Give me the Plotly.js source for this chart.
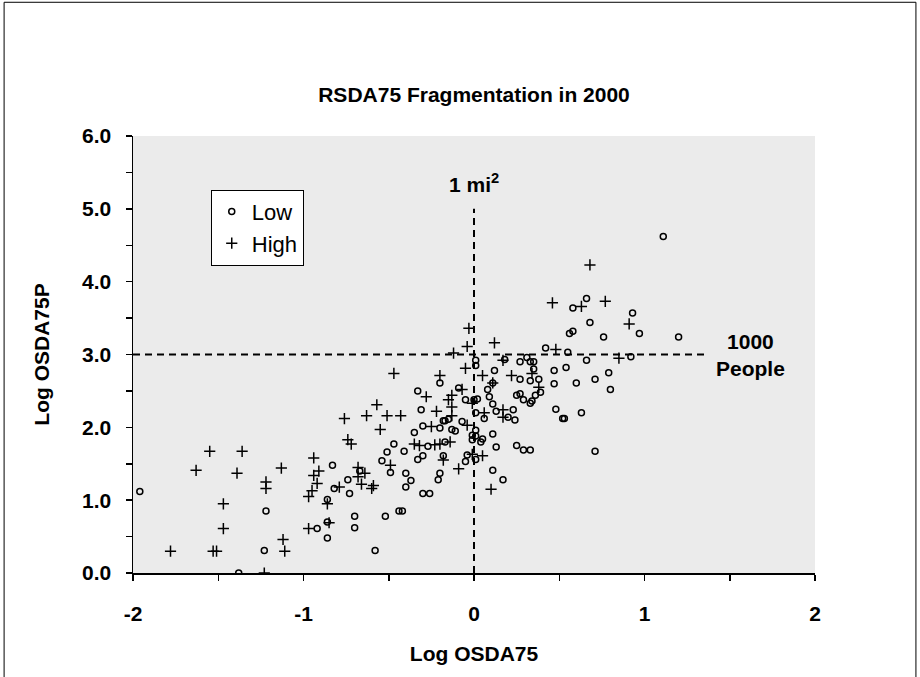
<!DOCTYPE html>
<html>
<head>
<meta charset="utf-8">
<script src="https://cdn.plot.ly/plotly-3.0.1.min.js"></script>
<style>html,body{margin:0;padding:0;background:#fff;}#chart{width:920px;height:677px;}</style>
</head>
<body>
<div id="chart"></div>
<script>
// Low group (open circles): log OSDA75 and log OSDA75P
const lowX = [-1.96,-1.22,-1.23,-1.38,-0.47,-0.51,-0.54,-0.49,-0.83,-0.74,-0.82,-0.73,-0.67,-0.86,-0.86,-0.92,-0.86,-0.70,-0.70,-0.52,-0.44,-0.42,-0.58,
  0.01,0.01,-0.20,-0.33,-0.09,-0.05,0.00,0.02,-0.31,0.01,-0.18,-0.17,-0.15,-0.07,-0.30,-0.20,-0.13,-0.11,0.01,-0.35,-0.01,0.01,-0.01,-0.41,-0.30,-0.27,-0.17,-0.33,-0.18,-0.04,-0.05,0.01,-0.40,-0.37,-0.40,-0.20,-0.21,-0.30,-0.26,
  0.42,0.18,0.27,0.31,0.33,0.35,0.35,0.12,0.27,0.33,0.38,0.47,0.47,0.11,0.08,0.39,0.25,0.27,0.36,0.09,0.29,0.33,0.34,0.11,0.13,0.20,0.23,0.24,0.06,0.48,0.11,0.04,0.05,0.13,0.25,0.29,0.33,0.11,0.17,
  1.11,0.58,0.66,0.93,0.68,0.56,0.58,0.76,0.97,1.20,0.55,0.66,0.92,0.54,0.79,0.71,0.60,0.80,0.52,0.53,0.63,0.71];
const lowY = [1.12,0.85,0.31,0.00,1.77,1.66,1.54,1.38,1.48,1.28,1.16,1.09,1.40,1.01,0.70,0.61,0.48,0.78,0.62,0.78,0.85,0.85,0.31,
  2.92,2.85,2.61,2.50,2.54,2.38,2.38,2.39,2.24,2.20,2.09,2.09,2.11,2.08,2.02,1.99,1.97,1.95,1.96,1.93,1.89,1.88,1.83,1.67,1.61,1.74,1.80,1.56,1.61,1.62,1.53,1.56,1.37,1.27,1.18,1.37,1.28,1.09,1.09,
  3.09,2.93,2.90,2.96,2.90,2.90,2.80,2.78,2.66,2.64,2.66,2.78,2.60,2.61,2.52,2.48,2.44,2.46,2.44,2.42,2.38,2.33,2.36,2.32,2.22,2.14,2.24,2.10,2.12,2.25,1.91,1.80,1.84,1.73,1.75,1.69,1.69,1.41,1.28,
  4.62,3.64,3.77,3.57,3.44,3.29,3.32,3.24,3.29,3.24,3.03,2.92,2.97,2.82,2.75,2.66,2.61,2.52,2.12,2.12,2.20,1.67];

// High group (plus signs)
const highX = [-1.55,-1.36,-1.63,-1.39,-1.22,-1.22,-1.13,-1.47,-1.47,-1.78,-1.53,-1.51,-1.23,-1.12,-1.11,
  -0.47,-0.57,-0.63,-0.51,-0.43,-0.76,-0.55,-0.74,-0.72,-0.49,-0.94,-0.91,-0.94,-0.92,-0.95,-0.97,-0.79,-0.68,-0.64,-0.68,-0.66,-0.59,-0.60,-0.86,-0.85,-0.97,
  -0.03,-0.04,-0.12,-0.05,-0.20,-0.28,-0.07,-0.13,-0.15,-0.01,-0.13,-0.22,-0.13,-0.04,-0.25,-0.35,-0.32,-0.23,-0.20,-0.14,-0.18,-0.09,
  0.46,0.12,0.48,0.17,0.34,0.05,0.22,0.11,0.38,0.17,0.17,0.06,-0.01,0.05,0.10,
  0.68,0.63,0.77,0.91,0.85];
const highY = [1.67,1.67,1.41,1.37,1.25,1.16,1.44,0.95,0.61,0.30,0.30,0.30,0.00,0.46,0.30,
  2.74,2.31,2.16,2.16,2.16,2.12,1.97,1.83,1.77,1.48,1.58,1.40,1.34,1.23,1.13,1.05,1.18,1.45,1.37,1.32,1.22,1.20,1.16,0.95,0.69,0.61,
  3.36,3.11,3.02,2.81,2.71,2.42,2.52,2.44,2.38,2.33,2.28,2.22,2.16,2.03,2.01,1.77,1.75,1.76,1.77,1.80,1.55,1.43,
  3.71,3.16,3.07,2.92,2.74,2.71,2.71,2.61,2.55,2.24,2.14,2.20,1.63,1.61,1.15,
  4.23,3.66,3.73,3.42,2.95];

const seriesNames = ["Low", "High"];
// Reference lines: 1 square mile (log = 0) and 1000 people (log = 3)
const vLineX = [0, 0], vLineY = [0, 5.0];
const hLineX = [-2, 1.37], hLineY = [3, 3];
const xTickVals = [-2, -1, 0, 1, 2];
const yTickVals = [0, 1, 2, 3, 4, 5, 6];

const font = "Arial, 'Liberation Sans', sans-serif";

const traces = [
  {x: lowX, y: lowY, name: seriesNames[0], type: "scatter", mode: "markers",
   marker: {symbol: "circle-open", size: 6, color: "#000", line: {width: 1.5, color: "#000"}}},
  {x: highX, y: highY, name: seriesNames[1], type: "scatter", mode: "markers",
   marker: {symbol: "cross-thin-open", size: 8, color: "#000", line: {width: 1.5, color: "#000"}}}
];

const layout = {
  width: 920, height: 677,
  margin: {l: 133, r: 105, t: 136, b: 104, pad: 0},
  paper_bgcolor: "#ffffff",
  plot_bgcolor: "#ebebeb",
  font: {family: font, color: "#000"},
  showlegend: true,
  title: {text: "<b>RSDA75 Fragmentation in 2000</b>", font: {size: 21, family: font, color: "#000"},
          x: 0.5, xref: "paper", xanchor: "center", y: 0.86, yref: "container", yanchor: "middle"},
  xaxis: {
    range: [-2, 2], tickvals: xTickVals, ticktext: xTickVals.map(v => "<b>" + v + "</b>"),
    showgrid: false, zeroline: false, showline: true, linecolor: "#000", linewidth: 1.5,
    ticks: "outside", ticklen: 6, tickwidth: 1.5, tickcolor: "#000",
    minor: {dtick: 0.5, tick0: 0, ticks: "outside", ticklen: 6, tickwidth: 1.5, tickcolor: "#000", showgrid: false},
    tickfont: {size: 21, family: font, color: "#000"}, ticklabelstandoff: 15,
    title: {text: "<b>Log OSDA75</b>", font: {size: 21, family: font, color: "#000"}, standoff: 22},
    fixedrange: true
  },
  yaxis: {
    range: [0, 6], tickvals: yTickVals, ticktext: yTickVals.map(v => "<b>" + v.toFixed(1) + "</b>"),
    showgrid: false, zeroline: false, showline: true, linecolor: "#000", linewidth: 1.5,
    ticks: "outside", ticklen: 6, tickwidth: 1.5, tickcolor: "#000",
    minor: {dtick: 0.5, tick0: 0, ticks: "outside", ticklen: 6, tickwidth: 1.5, tickcolor: "#000", showgrid: false},
    tickfont: {size: 21, family: font, color: "#000"}, ticklabelstandoff: 10,
    title: {text: "<b>Log OSDA75P</b>", font: {size: 21, family: font, color: "#000"}, standoff: 26},
    fixedrange: true
  },
  legend: {x: 0.114, y: 0.877, xanchor: "left", yanchor: "top", bgcolor: "#ffffff",
           bordercolor: "#000", borderwidth: 1, font: {size: 22, family: font, color: "#000"},
           itemwidth: 30, tracegroupgap: 0},
  shapes: [
    {type: "line", xref: "x", yref: "y", x0: vLineX[0], x1: vLineX[1], y0: vLineY[0], y1: vLineY[1],
     line: {color: "#000", width: 2, dash: "7px,5px"}},
    {type: "line", xref: "x", yref: "y", x0: hLineX[0], x1: hLineX[1], y0: hLineY[0], y1: hLineY[1],
     line: {color: "#000", width: 2, dash: "7px,5px"}},
    {type: "rect", xref: "paper", yref: "paper", x0: -0.189, x1: 1.148, y0: -0.35, y1: 1.306,
     line: {color: "#000", width: 1}, fillcolor: "rgba(0,0,0,0)", layer: "above"}
  ],
  annotations: [
    {x: 0, y: 5.36, xref: "x", yref: "y", text: "<b>1 mi<sup>2</sup></b>", showarrow: false,
     font: {size: 21, family: font, color: "#000"}, xanchor: "center", yanchor: "middle"},
    {x: 1.62, y: 2.99, xref: "x", yref: "y", text: "<b>1000<br>People</b>", showarrow: false,
     font: {size: 21, family: font, color: "#000"}, xanchor: "center", yanchor: "middle"}
  ]
};

Plotly.newPlot("chart", traces, layout, {staticPlot: true, displayModeBar: false});
</script>
</body>
</html>
